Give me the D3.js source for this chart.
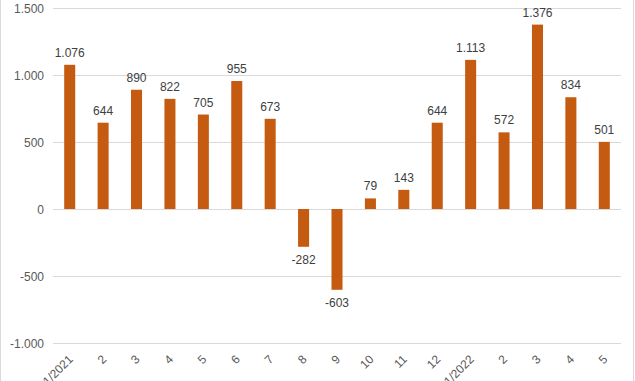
<!DOCTYPE html>
<html><head><meta charset="utf-8">
<script src="https://cdn.jsdelivr.net/npm/d3@7"></script>
<style>body{margin:0;background:#fff}svg{display:block}text{font-family:"Liberation Sans",Arial,sans-serif}</style>
</head><body><svg id="c" width="635" height="381"></svg>
<script>
const categories = ["1/2021","2","3","4","5","6","7","8","9","10","11","12","1/2022","2","3","4","5"];
const values = [1076,644,890,822,705,955,673,-282,-603,79,143,644,1113,572,1376,834,501];
const yTicks = [-1000,-500,0,500,1000,1500];

const loc = d3.formatLocale({decimal:",",thousands:".",grouping:[3],currency:["",""],minus:"-"});
const fmt = loc.format(",d");
const svg = d3.select("#c");
svg.append("rect").attr("x",0.5).attr("y",-1).attr("width",633).attr("height",390).attr("fill","none").attr("stroke","#d9d9d9");

const x = d3.scaleBand().domain(d3.range(categories.length)).range([53,621]).paddingInner(0.67).paddingOuter(0.335);
const y = d3.scaleLinear().domain([-1000,1500]).range([343,8]);

const grid = svg.append("g");
grid.selectAll("line").data(yTicks).join("line")
  .attr("x1",53).attr("x2",621).attr("y1",d=>Math.round(y(d))+0.5).attr("y2",d=>Math.round(y(d))+0.5)
  .attr("stroke","#d9d9d9").attr("stroke-width",1);

const yAxis = d3.axisLeft(y).tickValues(yTicks).tickFormat(fmt).tickSize(0).tickPadding(0);
const ya = svg.append("g").attr("transform","translate(44,0)").call(yAxis);
ya.select(".domain").remove();
ya.selectAll("text").attr("fill","#595959").attr("font-size",12).attr("dy","0.35em");

svg.append("g").selectAll("rect").data(values).join("rect")
  .attr("x",(d,i)=>x(i)).attr("width",x.bandwidth())
  .attr("y",d=>y(Math.max(0,d))).attr("height",d=>Math.abs(y(d)-y(0)))
  .attr("fill","#C55A11");

svg.append("g").selectAll("text").data(values).join("text")
  .attr("x",(d,i)=>x(i)+x.bandwidth()/2)
  .attr("y",d=>d>=0? y(d)-8 : y(d)+17)
  .attr("text-anchor","middle").attr("font-size",12).attr("fill","#404040")
  .text(d=>fmt(d));

const xAxis = d3.axisBottom(x).tickFormat(i=>categories[i]).tickSize(0).tickPadding(0);
const xa = svg.append("g").attr("transform","translate(0,350)").call(xAxis);
xa.select(".domain").remove();
xa.selectAll("text").attr("fill","#595959").attr("font-size",12)
  .attr("text-anchor","end").attr("dy",0)
  .attr("transform","translate(4,10) rotate(-45)");
</script></body></html>
